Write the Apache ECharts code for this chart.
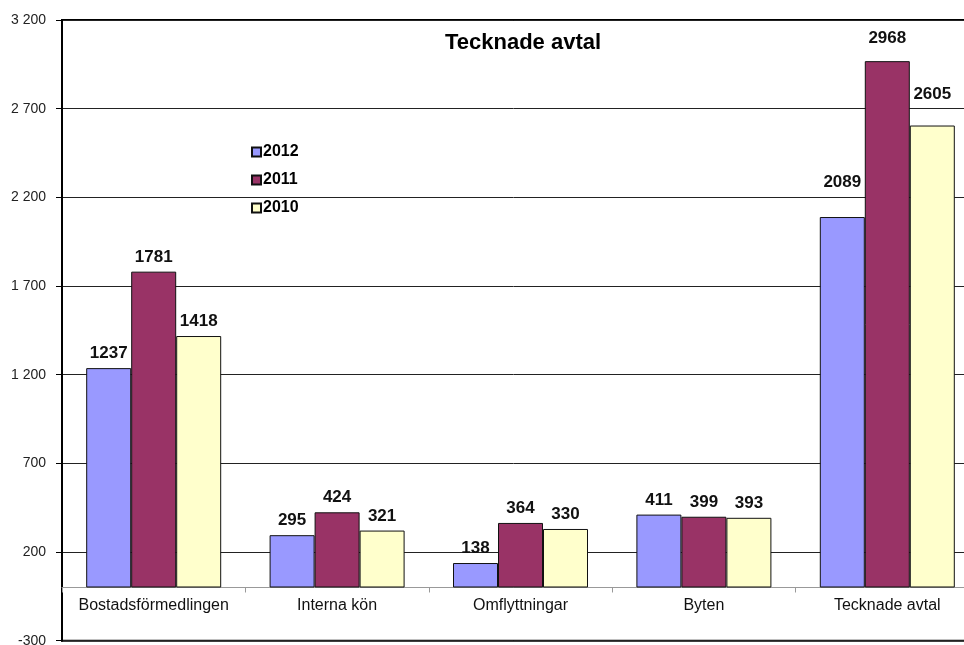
<!DOCTYPE html>
<html>
<head>
<meta charset="utf-8">
<script src="https://cdn.jsdelivr.net/npm/echarts@6/dist/echarts.min.js"></script>
<style>html,body{margin:0;padding:0;background:#fff}#c{width:964px;height:645px}</style>
</head>
<body>
<div id="c"></div>
<script>
const categories = ['Bostadsförmedlingen', 'Interna kön', 'Omflyttningar', 'Byten', 'Tecknade avtal'];
const seriesNames = ['2012', '2011', '2010'];
const values2012 = [1237, 295, 138, 411, 2089];
const values2011 = [1781, 424, 364, 399, 2968];
const values2010 = [1418, 321, 330, 393, 2605];
const yTicks = [-300, 200, 700, 1200, 1700, 2200, 2700, 3200];
const title = 'Tecknade avtal';

const colors = ['#9999FF', '#993366', '#FFFFCC'];
const allValues = [values2012, values2011, values2010];
// extra label lift for the last group (as in the reference)
const lift = [[0,0,0,0,20],[0,0,0,0,8],[0,0,0,0,17]];

const font = 'Liberation Sans, Arial, sans-serif';
const yMin = yTicks[0], yMax = yTicks[yTicks.length - 1];
const gridTop = 20, gridBottom = 4.3, H = 645;
const gridH = H - gridTop - gridBottom;
const zeroOffset = -(0 - yMin) / (yMax - yMin) * gridH;

const chart = echarts.init(document.getElementById('c'));
chart.setOption({
  animation: false,
  backgroundColor: '#fff',
  title: {
    text: title, left: 518, top: 27, textAlign: 'center',
    textStyle: {fontFamily: font, fontSize: 22, fontWeight: 'bold', color: '#000'}
  },
  legend: {
    orient: 'vertical', left: 251, top: 144, padding: 0, itemWidth: 9, itemHeight: 9, itemGap: 12,
    icon: 'rect',
    data: seriesNames,
    textStyle: {fontFamily: font, fontSize: 16, lineHeight: 16, fontWeight: 'bold', color: '#000', padding: [0,0,0,-3]}
  },
  grid: {
    left: 62, top: gridTop, width: 917, bottom: gridBottom,
    outerBoundsMode: 'none', containLabel: false,
    show: true, borderColor: '#000', borderWidth: 2, backgroundColor: 'transparent'
  },
  xAxis: {
    type: 'category', data: categories, position: 'bottom', offset: zeroOffset,
    axisLine: {onZero: false, lineStyle: {color: '#999', width: 1}},
    axisTick: {show: true, interval: 0, alignWithLabel: false, length: 5, lineStyle: {color: '#999'}},
    axisLabel: {interval: 0, hideOverlap: false, fontFamily: font, fontSize: 16, color: '#111', margin: 10},
    splitLine: {show: false}
  },
  yAxis: {
    type: 'value', min: yMin, max: yMax, interval: 500,
    axisLine: {show: true, onZero: false, lineStyle: {color: '#000', width: 2}},
    axisTick: {show: true, length: 6, lineStyle: {color: '#000', width: 1}},
    axisLabel: {
      fontFamily: font, fontSize: 14, color: '#222', margin: 16,
      formatter: v => String(v).replace(/\B(?=(\d{3})+(?!\d))/g, ' ')
    },
    splitLine: {show: true, lineStyle: {color: '#222', width: 1}}
  },
  series: seriesNames.map((name, si) => ({
    name, type: 'bar', barWidth: 45, barGap: '0%',
    itemStyle: {color: colors[si], borderColor: '#111', borderWidth: 1},
    label: {
      show: true, position: 'top', distance: 6,
      fontFamily: font, fontSize: 17, fontWeight: 'bold', color: '#111'
    },
    data: allValues[si].map((v, i) => lift[si][i] ? {value: v, label: {distance: 6 + lift[si][i]}} : v)
  }))
});
</script>
</body>
</html>
